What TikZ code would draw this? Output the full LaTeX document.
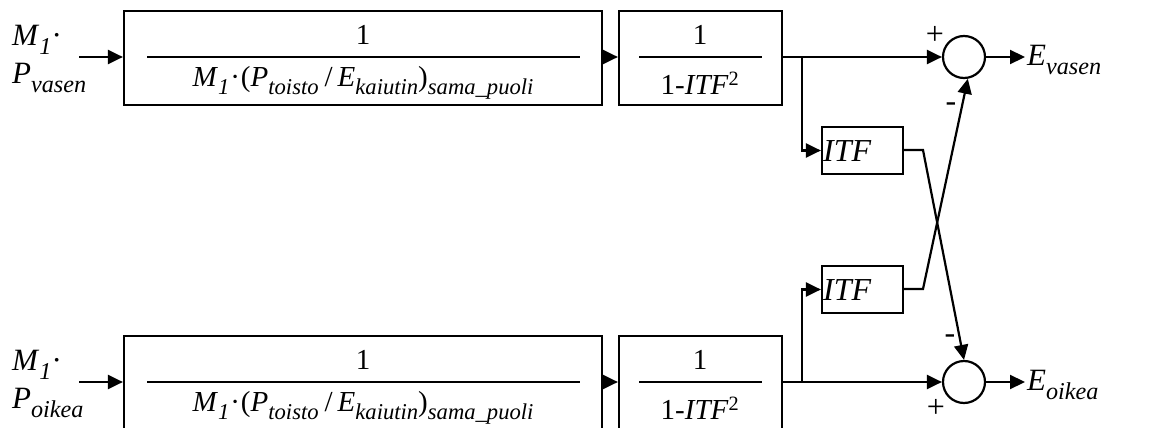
\documentclass[tikz,border=0pt]{standalone}
\usepackage{fontspec}
\setmainfont{Liberation Serif}
\usetikzlibrary{arrows.meta}
\newcommand{\sbx}[1]{\raisebox{-0.28em}{\fontsize{0.78\dimexpr\fontdimen6\font\relax}{1em}\selectfont\itshape #1}}
\newcommand{\denomtext}{\textit{M}\sbx{1}\kern1pt·\kern1pt(\textit{P}\sbx{toisto}\kern6pt/\kern5pt\textit{E}\sbx{kaiutin})\sbx{sama\_puoli}}
\begin{document}
\begin{tikzpicture}[x=1pt,y=-1pt,
  ln/.style={line width=2.2pt},
  arr/.style={line width=2.2pt,-{Triangle[length=15pt,width=14pt]}},
  blk/.style={draw,line width=2.2pt,rectangle,inner sep=0pt},
  sum/.style={draw,line width=2.2pt,circle,minimum size=42pt,inner sep=0pt},
  lbl/.style={font=\fontsize{31}{38}\selectfont,inner sep=0pt},
  txt/.style={font=\fontsize{29}{30}\selectfont,inner sep=0pt},
  itf/.style={font=\fontsize{32}{32}\selectfont,inner sep=0pt},
  sgn/.style={font=\fontsize{32}{32}\selectfont,inner sep=0pt}]
\useasboundingbox (0,0) rectangle (1163,428);
% top row
\node[blk,minimum width=478pt,minimum height=94pt] (B1) at (363,58) {};
\node[blk,minimum width=163pt,minimum height=94pt] (B2) at (700.5,58) {};
\draw[ln] (147,57) -- (580,57);
\draw[ln] (639,57) -- (762,57);
\node[txt] (n1) at (363,35) {1};
\node[txt] (d1) at (363,83) {\denomtext};
\node[txt] (n2) at (700,35) {1};
\node[txt] (d2) at (700,83) {1-\textit{ITF}\textsuperscript{2}};
\node[lbl,align=left,anchor=west] (in1) at (12,59) {\textit{M}\sbx{1}·\\\textit{P}\sbx{vasen}};
\coordinate (a1) at (79,57);
\draw[arr] (a1) -- (B1.west |- a1);
\draw[arr] (B1.east |- a1) -- (B2.west |- a1);
\node[sum] (S1) at (964,57) {};
\coordinate (br1) at (802,57);
\draw[arr] (B2.east |- a1) -- (S1.west);
\node[blk,minimum width=81pt,minimum height=47pt] (I1) at (862.5,150.5) {};
\node[itf,anchor=west] (I1t) at (823,151) {\textit{ITF}};
\draw[arr] (br1) |- (I1.west);
\coordinate (e1) at (1025,57);
\draw[arr] (S1.east) -- (e1);
\node[lbl,anchor=west] (Ev) at (1027,60) {\textit{E}\sbx{vasen}};
% bottom row
\node[blk,minimum width=478pt,minimum height=94pt] (B3) at (363,383) {};
\node[blk,minimum width=163pt,minimum height=94pt] (B4) at (700.5,383) {};
\draw[ln] (147,382) -- (580,382);
\draw[ln] (639,382) -- (762,382);
\node[txt] (n3) at (363,360) {1};
\node[txt] (d3) at (363,408) {\denomtext};
\node[txt] (n4) at (700,360) {1};
\node[txt] (d4) at (700,408) {1-\textit{ITF}\textsuperscript{2}};
\node[lbl,align=left,anchor=west] (in2) at (12,384) {\textit{M}\sbx{1}·\\\textit{P}\sbx{oikea}};
\coordinate (a2) at (79,382);
\draw[arr] (a2) -- (B3.west |- a2);
\draw[arr] (B3.east |- a2) -- (B4.west |- a2);
\node[sum] (S2) at (964,382) {};
\coordinate (br2) at (802,382);
\draw[arr] (B4.east |- a2) -- (S2.west);
\node[blk,minimum width=81pt,minimum height=47pt] (I2) at (862.5,289.5) {};
\node[itf,anchor=west] (I2t) at (823,290) {\textit{ITF}};
\draw[arr] (br2) |- (I2.west);
\coordinate (e2) at (1025,382);
\draw[arr] (S2.east) -- (e2);
\node[lbl,anchor=west] (Eo) at (1027,385) {\textit{E}\sbx{oikea}};
% cross connections
\coordinate (k1) at (923,150);
\coordinate (k2) at (923,289);
\draw[arr] (I1.east |- k1) -- (k1) -- (S2.north);
\draw[arr] (I2.east |- k2) -- (k2) -- (S1.-80);
% signs
\node[sgn] (p1) at (935,35) {+};
\node[sgn] (m1) at (951,107) {-};
\node[sgn] (m2) at (950,339) {-};
\node[sgn] (p2) at (936,408) {+};
\end{tikzpicture}
\end{document}
